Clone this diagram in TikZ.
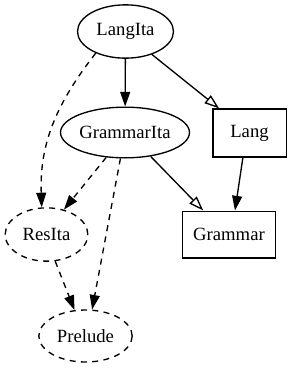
\documentclass[tikz,border=0pt]{standalone}
\usepackage{fontspec}
\setmainfont{Liberation Serif}
\usetikzlibrary{arrows.meta,positioning,shapes.geometric}

\begin{document}
\begin{tikzpicture}[
  x=0.75pt, y=-0.75pt, font=\fontsize{14}{16}\selectfont,
  line width=1pt, >={Triangle[length=11pt,width=7.5pt]},
  module/.style={draw, ellipse, inner sep=0pt},
  resmod/.style={module, dash pattern=on 4.5pt off 4pt},
  iface/.style={draw, rectangle, inner sep=0pt},
  dep/.style={->},
  inherit/.style={-{Triangle[open,length=11pt,width=7.5pt]}},
  resdep/.style={->, dash pattern=on 4.5pt off 4pt},
]
\useasboundingbox (0,0) rectangle (290,368);
% modules
\node[module, minimum width=72pt, minimum height=40pt] (langita) at (125.5,31.5) {LangIta};
\node[module, minimum width=96pt, minimum height=38pt] (grammarita) at (125,132.5) {GrammarIta};
\node[iface, minimum width=55pt, minimum height=36pt] (lang) at (249.5,133) {Lang};
\node[resmod, minimum width=62pt, minimum height=40pt] (resita) at (46.5,234.5) {ResIta};
\node[iface, minimum width=70pt, minimum height=35pt] (grammar) at (229,234.5) {Grammar};
\node[resmod, minimum width=70pt, minimum height=39pt] (prelude) at (85.5,336) {Prelude};
% solid edges
\draw[dep] (langita) -- (grammarita);
\draw[inherit] (langita.319) -- (lang.141);
\draw[inherit] (grammarita.317) -- (grammar.137);
\draw[dep] (lang.255) -- (grammar.76);
% dashed edges
\draw[resdep] (langita.216) to[out=-128,in=92] (resita.100);
\draw[resdep] (grammarita.233) -- (resita.55);
\draw[resdep] (grammarita.260) -- (prelude.76);
\draw[resdep] (resita.288) -- (prelude.113);
\end{tikzpicture}
\end{document}
